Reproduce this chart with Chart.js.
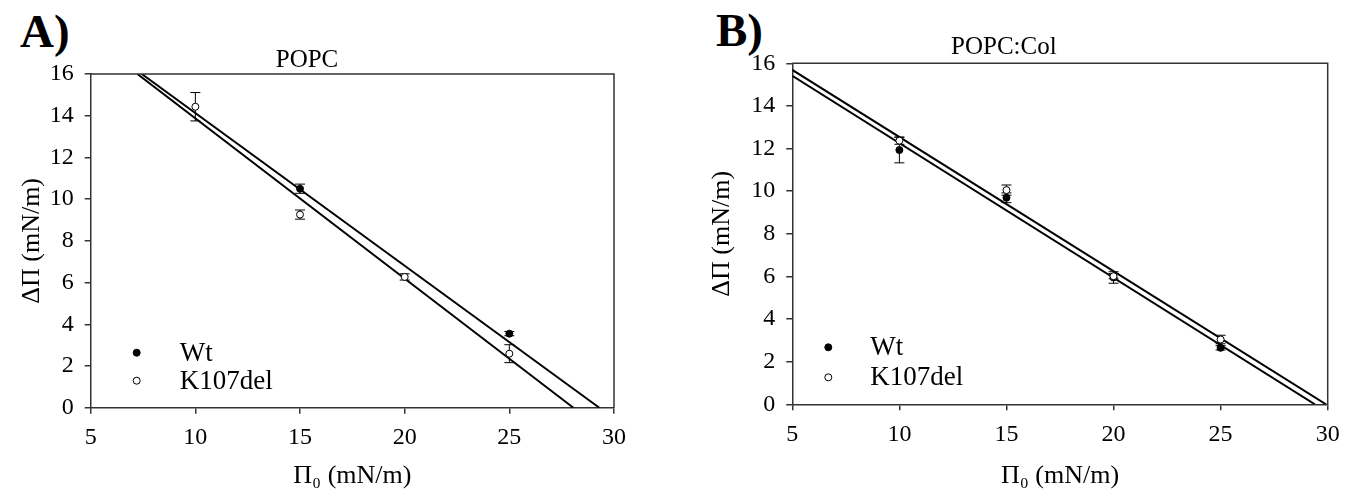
<!DOCTYPE html>
<html><head><meta charset="utf-8">
<script src="https://cdn.jsdelivr.net/npm/chart.js@4/dist/chart.umd.min.js"></script>
<style>
html,body{margin:0;padding:0;background:#fff;width:1357px;height:494px;overflow:hidden;}
canvas{position:absolute;top:0;}
.panel{position:absolute;font-family:"Liberation Serif","Times New Roman",serif;font-weight:bold;font-size:47px;line-height:1;color:#000;}
</style></head><body>
<div class="panel" style="left:20px;top:8px">A)</div>
<div class="panel" style="left:716px;top:7px">B)</div>
<canvas id="cA" width="680" height="494" style="left:0"></canvas>
<canvas id="cB" width="677" height="494" style="left:680px"></canvas>
<script>
// ---- data ----
const pressures = [10, 15, 20, 25];           // Π0 (mN/m)
const xTicks = [5, 10, 15, 20, 25, 30];
const yTicks = [0, 2, 4, 6, 8, 10, 12, 14, 16];

// Panel A – POPC
const wtA     = [null, 10.5, null, 3.55];
const wtAErr  = [null, 0.22, null, 0.10];
const kA      = [14.43, 9.26, 6.27, 2.59];
const kAErr   = [0.68, 0.22, 0.15, 0.43];
const fitWtA_x = [7.44, 29.30];
const fitWtA_y = [16, 0];
const fitKA_x  = [7.23, 28.06];
const fitKA_y  = [16, 0];

// Panel B – POPC:Col
const wtB     = [11.93, 9.69, 5.95, 2.65];
const wtBErr  = [0.60, 0.23, 0.27, 0.10];
const kB      = [12.37, 10.05, 6.01, 3.04];
const kBErr   = [0.17, 0.24, 0.12, 0.20];
const fitWtB_x = [5, 29.40];
const fitWtB_y = [15.41, 0];
const fitKB_x  = [5, 29.92];
const fitKB_y  = [15.69, 0];

// ---- helpers ----
const FAM = '"Liberation Serif","Times New Roman",serif';
const pts = (xs, ys) => xs.map((x, i) => ({x: x, y: ys[i]}));

const errorBars = {
  id: 'errorBars',
  beforeDatasetsDraw(chart) {
    const {ctx, scales: {x, y}} = chart;
    ctx.save();
    ctx.strokeStyle = '#000'; ctx.lineWidth = 1;
    chart.data.datasets.forEach(ds => {
      if (!ds.errors) return;
      ds.data.forEach((p, i) => {
        const e = ds.errors[i];
        if (p.y == null || e == null) return;
        const px = x.getPixelForValue(p.x);
        const y1 = y.getPixelForValue(p.y + e), y2 = y.getPixelForValue(p.y - e);
        ctx.beginPath();
        ctx.moveTo(px, y1); ctx.lineTo(px, y2);
        ctx.moveTo(px - 5, y1); ctx.lineTo(px + 5, y1);
        ctx.moveTo(px - 5, y2); ctx.lineTo(px + 5, y2);
        ctx.stroke();
      });
    });
    ctx.restore();
  }
};

const frame = {
  id: 'frame',
  afterDraw(chart) {
    const {ctx, chartArea: a} = chart;
    ctx.save();
    ctx.strokeStyle = '#333'; ctx.lineWidth = 1.5;
    ctx.beginPath();
    ctx.moveTo(a.left, a.top); ctx.lineTo(a.right, a.top); ctx.lineTo(a.right, a.bottom);
    ctx.stroke();
    ctx.restore();
  }
};

const insetLegend = {
  id: 'insetLegend',
  afterDraw(chart, args, opts) {
    const {ctx, chartArea: a} = chart;
    ctx.save();
    ctx.font = '27px ' + FAM;
    ctx.textBaseline = 'middle';
    opts.items.forEach((idx, k) => {
      const ds = chart.data.datasets[idx];
      const cy = a.bottom - opts.dy[k];
      const cx = a.left + opts.markerX;
      ctx.beginPath(); ctx.arc(cx, cy, 3.5, 0, Math.PI * 2);
      ctx.fillStyle = ds.backgroundColor; ctx.fill();
      ctx.strokeStyle = ds.borderColor; ctx.lineWidth = 1; ctx.stroke();
      ctx.fillStyle = '#000';
      ctx.fillText(ds.label, a.left + opts.textX, cy + 1);
    });
    ctx.restore();
  }
};

function makeChart(id, o) {
  const axisCommon = {
    grid: {display: true, drawOnChartArea: false, drawTicks: true, tickLength: 6, color: '#333', lineWidth: 1.5},
    border: {display: true, color: '#333', width: 1.5},
  };
  return new Chart(document.getElementById(id), {
    type: 'scatter',
    data: {datasets: [
      {label: 'K107del', data: pts(pressures, o.k), errors: o.kErr, backgroundColor: '#fff', borderColor: '#000',
       borderWidth: 1, pointRadius: 3.5, order: 0},
      {label: 'Wt', data: pts(pressures, o.wt), errors: o.wtErr, backgroundColor: '#000', borderColor: '#000',
       borderWidth: 1, pointRadius: 3.5, order: 1},
      {label: 'Wt fit', data: pts(o.fitWt[0], o.fitWt[1]), showLine: true, pointRadius: 0,
       borderColor: '#000', borderWidth: 2, order: 2},
      {label: 'K107del fit', data: pts(o.fitK[0], o.fitK[1]), showLine: true, pointRadius: 0,
       borderColor: '#000', borderWidth: 2, order: 2},
    ]},
    options: {
      responsive: false, animation: false, devicePixelRatio: 1,
      layout: {padding: {left: 0, right: o.padRight, top: 0, bottom: 0}},
      plugins: {
        legend: {display: false}, tooltip: {enabled: false},
        title: {display: true, text: o.title, color: '#000',
                font: {family: FAM, size: 25, weight: 'normal', lineHeight: 1},
                padding: {top: o.titleTop, bottom: o.titleBottom}},
        insetLegend: {items: [1, 0], markerX: o.legMarkerX, textX: o.legTextX, dy: o.legDy},
      },
      scales: {
        x: Object.assign({}, axisCommon, {
          type: 'linear', min: 5, max: 30,
          afterBuildTicks: s => { s.ticks = xTicks.map(v => ({value: v})); },
          ticks: {font: {family: FAM, size: 24}, color: '#000', padding: 10, maxRotation: 0},
          title: {display: true, text: 'Π₀ (mN/m)', color: '#000', font: {family: FAM, size: 26},
                  padding: {top: 0, bottom: 2}},
          afterFit: s => { s.height = o.xAxisH; }
        }),
        y: Object.assign({}, axisCommon, {
          type: 'linear', min: 0, max: 16,
          afterBuildTicks: s => { s.ticks = yTicks.map(v => ({value: v})); },
          ticks: {font: {family: FAM, size: 24}, color: '#000', padding: 11},
          title: {display: true, text: 'ΔΠ (mN/m)', color: '#000', font: {family: FAM, size: 26},
                  padding: {top: o.yTitlePad, bottom: 0}},
          afterFit: s => { s.width = o.yAxisW; }
        }),
      }
    },
    plugins: [errorBars, frame, insetLegend]
  });
}

makeChart('cA', {
  title: 'POPC', wt: wtA, wtErr: wtAErr, k: kA, kErr: kAErr,
  fitWt: [fitWtA_x, fitWtA_y], fitK: [fitKA_x, fitKA_y],
  padRight: 66, titleTop: 48, titleBottom: 1, xAxisH: 86.3, yAxisW: 90.7, yTitlePad: 17,
  legMarkerX: 46, legTextX: 89, legDy: [55, 27]
});
makeChart('cB', {
  title: 'POPC:Col', wt: wtB, wtErr: wtBErr, k: kB, kErr: kBErr,
  fitWt: [fitWtB_x, fitWtB_y], fitK: [fitKB_x, fitKB_y],
  padRight: 29.3, titleTop: 35, titleBottom: 3.3, xAxisH: 89.7, yAxisW: 112.3, yTitlePad: 27,
  legMarkerX: 36, legTextX: 78, legDy: [57, 27]
});
</script>
</body></html>
